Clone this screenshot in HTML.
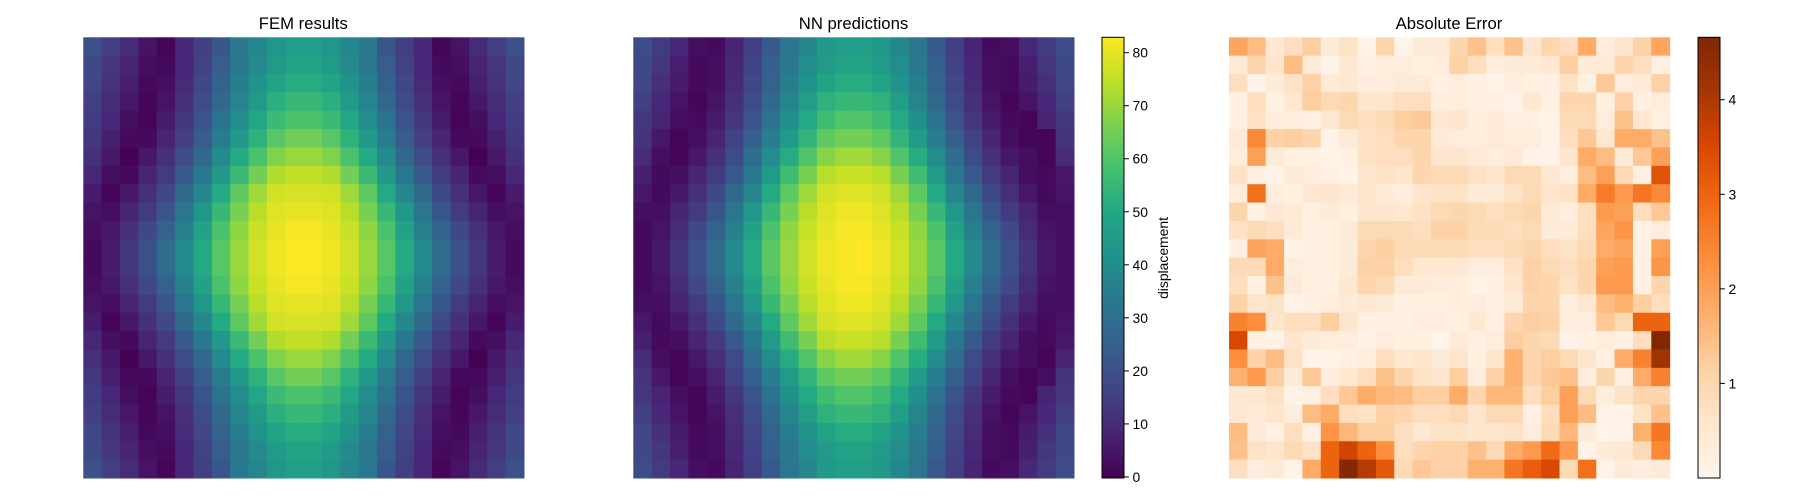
<!DOCTYPE html>
<html><head><meta charset="utf-8"><style>
html,body{margin:0;padding:0;background:#fff;}
svg{display:block;font-family:"Liberation Sans","DejaVu Sans",sans-serif;}
</style></head>
<body>
<svg id="fig" width="1800" height="500" viewBox="0 0 1800 500" xmlns="http://www.w3.org/2000/svg">
<defs>
<linearGradient id="gViridis" x1="0" y1="1" x2="0" y2="0">
<stop offset="0" stop-color="#440154"/><stop offset="0.1" stop-color="#482475"/><stop offset="0.2" stop-color="#414487"/><stop offset="0.3" stop-color="#355f8d"/><stop offset="0.4" stop-color="#2a788e"/><stop offset="0.5" stop-color="#21918c"/><stop offset="0.6" stop-color="#22a884"/><stop offset="0.7" stop-color="#44bf70"/><stop offset="0.8" stop-color="#7ad151"/><stop offset="0.9" stop-color="#bddf26"/><stop offset="1" stop-color="#fde725"/>
</linearGradient>
<linearGradient id="gOranges" x1="0" y1="1" x2="0" y2="0">
<stop offset="0" stop-color="#fff5eb"/><stop offset="0.125" stop-color="#fee6ce"/><stop offset="0.25" stop-color="#fdd0a2"/><stop offset="0.375" stop-color="#fdae6b"/><stop offset="0.5" stop-color="#fd8d3c"/><stop offset="0.625" stop-color="#f16913"/><stop offset="0.75" stop-color="#d94801"/><stop offset="0.875" stop-color="#a63603"/><stop offset="1" stop-color="#7f2704"/>
</linearGradient>
</defs>
<text x="303.3" y="29" font-size="16.7" text-anchor="middle" fill="#000">FEM results</text>
<text x="853.5" y="29" font-size="16.7" text-anchor="middle" fill="#000">NN predictions</text>
<text x="1449" y="29" font-size="16.7" text-anchor="middle" fill="#000">Absolute Error</text>
<g id="fem"></g>
<g id="nn"></g>
<g id="err"></g>
<g id="cb1">
<rect x="1102" y="37.3" width="22" height="440.7" fill="url(#gViridis)" stroke="#000" stroke-width="1"/>
</g>
<text transform="translate(1168,258) rotate(-90)" font-size="13.9" text-anchor="middle" fill="#000">displacement</text>
<g id="cb2">
<rect x="1698" y="37.3" width="22" height="440.7" fill="url(#gOranges)" stroke="#000" stroke-width="1"/>
</g>
</svg>
<script>
const nRows = 24, nCols = 24;
const femValues = [
[20,15,10,4,1,9,15,22,33,38,43,46,46,43,38,33,22,15,9,1,4,10,15,20],
[18,13,8,3,2,9,16,24,33,39,45,48,48,45,39,33,24,16,9,2,3,8,13,18],
[17,12,7,2,3,10,17,26,35,42,48,51,51,48,42,35,26,17,10,3,2,7,12,17],
[15,10,5,1,4,11,19,28,37,45,52,55,55,52,45,37,28,19,11,4,1,5,10,15],
[14,9,3,1,6,13,21,31,40,49,56,59,59,56,49,40,31,21,13,6,1,3,9,14],
[13,7,2,2,8,15,24,34,44,53,61,65,65,61,53,44,34,24,15,8,2,2,7,13],
[11,5,0,5,11,19,28,39,50,59,67,70,70,67,59,50,39,28,19,11,5,0,5,11],
[9,3,2,8,14,23,33,44,56,65,73,75,75,73,65,56,44,33,23,14,8,2,3,9],
[6,1,5,11,18,28,38,50,62,71,77,78,78,77,71,62,50,38,28,18,11,5,1,6],
[4,3,8,14,22,32,43,55,66,74,79,80,80,79,74,66,55,43,32,22,14,8,3,4],
[3,5,11,18,26,36,47,59,69,76,80,82,82,80,76,69,59,47,36,26,18,11,5,3],
[2,6,13,20,29,39,50,61,70,77,81,83,83,81,77,70,61,50,39,29,20,13,6,2],
[2,6,13,20,29,39,50,61,70,77,81,83,83,81,77,70,61,50,39,29,20,13,6,2],
[3,5,11,18,26,36,47,59,69,76,80,82,82,80,76,69,59,47,36,26,18,11,5,3],
[4,3,8,14,22,32,43,55,66,74,79,80,80,79,74,66,55,43,32,22,14,8,3,4],
[6,1,5,11,18,28,38,50,62,71,77,78,78,77,71,62,50,38,28,18,11,5,1,6],
[9,3,2,8,14,23,33,44,56,65,73,75,75,73,65,56,44,33,23,14,8,2,3,9],
[11,5,0,5,11,19,28,39,50,59,67,70,70,67,59,50,39,28,19,11,5,0,5,11],
[13,7,2,2,8,15,24,34,44,53,61,65,65,61,53,44,34,24,15,8,2,2,7,13],
[14,9,3,1,6,13,21,31,40,49,56,59,59,56,49,40,31,21,13,6,1,3,9,14],
[15,10,5,1,4,11,19,28,37,45,52,55,55,52,45,37,28,19,11,4,1,5,10,15],
[17,12,7,2,3,10,17,26,35,42,48,51,51,48,42,35,26,17,10,3,2,7,12,17],
[18,13,8,3,2,9,16,24,33,39,45,48,48,45,39,33,24,16,9,2,3,8,13,18],
[20,15,10,4,1,9,15,22,33,38,43,46,46,43,38,33,22,15,9,1,4,10,15,20]
];
const nnValues = [
[19,14,9,3,2,8,15,23,32,38,44,46,46,44,38,32,23,15,8,2,3,9,14,19],
[18,13,7,2,3,9,16,25,33,40,45,48,48,45,40,33,25,16,9,3,2,7,13,18],
[17,11,6,2,3,10,17,26,35,42,48,51,51,48,42,35,26,17,10,3,2,6,11,17],
[15,9,4,1,4,11,19,28,37,46,53,55,55,53,46,37,28,19,11,4,1,4,9,15],
[13,8,3,2,6,13,21,31,41,50,57,60,60,57,50,41,31,21,13,6,2,1,8,13],
[12,5,1,3,8,16,25,35,45,54,62,65,65,62,54,45,35,25,16,8,3,1,1,12],
[10,3,1,5,11,19,29,40,51,60,68,71,71,68,60,51,40,29,19,11,5,3,1,10],
[7,2,3,8,14,23,33,45,57,66,74,76,76,74,66,57,45,33,23,14,8,3,2,5],
[5,2,5,11,18,28,38,50,62,71,77,79,79,77,71,62,50,38,28,18,11,5,2,4],
[3,3,8,14,22,32,43,55,66,74,79,81,81,79,74,66,55,43,32,22,14,8,3,3],
[2,4,10,18,26,36,47,59,69,76,80,82,82,80,76,69,59,47,36,26,18,10,4,3],
[2,5,12,20,29,39,50,61,70,77,81,82,83,81,77,70,61,50,39,29,20,12,5,3],
[2,5,12,20,29,39,50,61,70,77,81,82,83,81,77,70,61,50,39,29,20,12,5,3],
[2,4,10,18,26,36,47,59,69,76,80,82,82,80,76,69,59,47,36,26,18,10,4,3],
[3,3,8,14,22,32,43,55,66,74,79,81,81,79,74,66,55,43,32,22,14,8,3,3],
[5,2,5,11,18,28,38,50,62,71,77,79,79,77,71,62,50,38,28,18,11,5,2,4],
[7,2,3,8,14,23,33,45,57,66,74,76,76,74,66,57,45,33,23,14,8,3,2,5],
[10,3,1,5,11,19,29,40,51,60,68,71,71,68,60,51,40,29,19,11,5,3,1,8],
[12,5,1,3,8,16,25,35,45,54,62,65,65,62,54,45,35,25,16,8,3,1,3,12],
[13,8,3,1,6,13,21,31,41,50,57,60,60,57,50,41,31,21,13,6,2,1,8,13],
[15,9,4,1,4,11,19,28,37,46,53,55,55,53,46,37,28,19,11,4,1,4,9,15],
[17,11,6,2,3,10,17,26,35,42,48,51,51,48,42,35,26,17,10,3,2,6,11,17],
[18,13,7,2,3,9,16,25,33,40,45,48,48,45,40,33,25,16,9,3,2,7,13,18],
[19,14,9,3,2,8,15,23,32,38,44,46,46,44,38,32,23,15,8,2,3,9,14,19]
];
const errValues = [
[1.9,1.5,0.5,0.8,1.2,0.4,0.7,0.1,1.0,0.05,0.4,0.4,1.0,1.4,0.8,1.4,0.6,1.0,0.8,1.8,0.3,0.6,1.1,1.9],
[0.4,1.0,0.6,1.5,0.4,0.1,0.5,0.2,0.3,0.3,0.2,0.3,1.1,0.8,0.3,0.4,0.4,0.5,1.2,0.4,0.4,1.0,0.8,0.2],
[0.8,0.1,0.4,0.7,1.1,0.4,0.5,0.3,0.3,0.4,0.4,0.2,0.3,0.2,0.1,0.3,0.2,0.2,0.7,0.2,1.3,0.3,0.4,1.1],
[0.2,0.8,0.2,0.5,1.2,0.9,1.0,0.6,0.6,0.8,0.8,0.3,0.3,0.2,0.2,0.1,0.5,0.2,1.0,1.0,0.2,1.1,0.2,0.3],
[0.2,0.7,0.3,0.3,0.2,0.5,0.9,0.8,0.9,1.2,1.3,0.5,0.6,0.3,0.4,0.2,0.2,0.1,0.9,0.9,0.3,1.4,0.5,0.2],
[0.4,2.4,1.1,1.2,1.0,0.1,0.4,0.7,0.8,1.0,1.0,0.4,0.3,0.3,0.4,0.3,0.3,0.1,0.8,1.3,0.5,1.8,1.8,1.4],
[0.3,2.0,0.4,0.2,0.2,0.1,0.2,0.7,0.8,0.8,1.0,0.6,0.6,0.4,0.3,0.4,0.1,0.1,0.6,1.8,1.5,0.4,1.3,2.0],
[0.7,0.2,0.1,0.4,0.3,0.2,0.1,0.6,0.7,0.6,1.0,0.9,0.9,0.7,0.6,0.9,0.9,0.5,0.3,1.5,2.0,0.9,0.2,3.3],
[0.3,2.8,0.3,0.2,0.5,0.6,0.4,0.6,0.4,0.3,0.6,0.7,0.7,0.4,0.4,0.7,0.9,0.6,0.7,1.8,2.6,2.1,2.7,2.4],
[1.0,0.2,0.5,0.4,0.2,0.4,0.2,0.6,0.6,0.5,0.7,0.9,1.0,0.9,0.8,0.9,1.0,0.4,0.3,0.8,2.1,2.0,0.8,1.3],
[0.7,0.9,0.8,0.4,0.2,0.2,0.4,0.9,0.9,0.9,0.8,1.1,1.1,0.9,0.9,0.8,0.9,0.4,0.4,0.8,1.9,2.2,0.1,0.3],
[0.2,1.9,1.8,0.1,0.2,0.2,0.4,1.0,1.2,0.9,0.9,0.9,0.9,0.8,0.8,0.9,1.0,0.8,0.7,0.9,1.8,1.9,0.2,2.0],
[0.9,0.9,1.8,0.3,0.2,0.2,0.4,1.1,1.1,0.8,0.5,0.5,0.5,0.3,0.3,0.7,1.1,0.9,0.8,1.0,2.0,2.1,0.2,2.2],
[0.8,0.2,1.4,0.4,0.2,0.2,0.5,1.0,0.9,0.4,0.4,0.3,0.3,0.1,0.2,0.6,1.1,1.0,0.7,1.0,2.1,2.1,0.2,1.0],
[1.1,0.6,0.7,0.1,0.2,0.3,0.4,0.5,0.4,0.2,0.2,0.2,0.3,0.3,0.2,0.4,1.0,1.0,0.3,0.5,1.5,1.7,1.2,0.8],
[2.5,2.3,0.6,0.8,0.8,1.2,0.6,0.2,0.2,0.2,0.3,0.3,0.2,0.5,0.2,1.0,1.2,1.1,0.3,0.3,1.3,0.9,3.0,3.0],
[3.5,0.2,0.1,0.6,0.4,0.3,0.3,0.1,0.3,0.2,0.2,0.05,0.4,0.2,0.3,1.2,1.0,0.9,0.1,0.2,0.3,0.2,0.8,4.65],
[2.3,1.1,1.5,0.7,0.1,0.1,0.2,0.3,0.8,0.5,0.6,0.4,0.6,0.2,0.6,1.7,1.0,1.2,0.9,0.6,0.2,1.8,2.5,4.2],
[1.7,2.1,1.2,0.4,1.3,0.3,0.5,0.8,1.4,1.0,0.7,0.6,1.2,0.3,1.1,1.7,1.0,1.3,1.4,0.3,1.0,0.2,1.8,2.5],
[0.5,0.5,0.7,0.1,0.2,0.8,1.3,1.8,1.6,1.5,1.2,1.2,1.8,1.0,1.6,1.6,0.8,1.2,2.0,0.9,0.3,0.7,1.0,1.0],
[0.5,0.4,0.6,0.3,1.5,1.8,0.8,0.7,1.1,1.0,0.8,0.8,0.9,0.6,0.9,0.9,0.2,0.8,2.0,1.5,0.1,0.1,0.7,1.4],
[1.5,0.4,0.2,0.8,0.2,2.2,1.6,1.2,1.2,0.8,0.5,0.7,0.7,0.6,0.6,0.7,0.3,0.9,1.6,0.4,0.05,0.1,1.7,2.7],
[1.4,0.7,0.6,0.9,0.7,3.0,3.6,3.0,2.3,0.8,1.0,1.1,1.1,1.4,0.9,1.8,2.1,2.9,2.1,0.1,0.4,0.5,0.9,2.4],
[0.8,0.3,0.4,0.1,1.8,3.0,4.6,3.9,3.2,0.9,1.3,1.1,1.1,1.7,1.7,2.7,3.1,3.5,0.9,2.8,0.1,0.4,0.3,0.4]
];
const dispTicks = [0,10,20,30,40,50,60,70,80];
const dispTickLabels = ["0","10","20","30","40","50","60","70","80"];
const errTicks = [1,2,3,4];
const errTickLabels = ["1","2","3","4"];
const dispMin = -0.2, dispMax = 82.9;
const errMin = 0, errMax = 4.66;

const VIR = ["#440154","#482475","#414487","#355f8d","#2a788e","#21918c","#22a884","#44bf70","#7ad151","#bddf26","#fde725"];
const ORA = ["#fff5eb","#fee6ce","#fdd0a2","#fdae6b","#fd8d3c","#f16913","#d94801","#a63603","#7f2704"];
function hex(h){return [parseInt(h.substr(1,2),16),parseInt(h.substr(3,2),16),parseInt(h.substr(5,2),16)];}
function cmap(stops,t){
  t=Math.max(0,Math.min(1,t));
  const p=t*(stops.length-1), i=Math.min(stops.length-2,Math.floor(p)), f=p-i;
  const a=hex(stops[i]), b=hex(stops[i+1]);
  return "rgb("+a.map((v,k)=>Math.round(v+(b[k]-v)*f)).join(",")+")";
}
const NS="http://www.w3.org/2000/svg";
const top0=37.3, size=440.7;
function drawGrid(gid,x0,vals,stops,vmin,vmax,label){
  const g=document.getElementById(gid);
  const cw=size/nCols, ch=size/nRows;
  const xs=j=>x0+j*cw, ys=i=>top0+i*ch;
  for(let i=0;i<nRows;i++){for(let j=0;j<nCols;j++){
    const r=document.createElementNS(NS,"rect");
    r.setAttribute("x",xs(j).toFixed(2));
    r.setAttribute("y",ys(i).toFixed(2));
    r.setAttribute("width",(cw+0.5).toFixed(2));
    r.setAttribute("height",(ch+0.5).toFixed(2));
    r.setAttribute("fill",cmap(stops,(vals[i][j]-vmin)/(vmax-vmin)));
    
    
    g.appendChild(r);
  }}
}
drawGrid("fem",83.3,femValues,VIR,dispMin,dispMax,"fem-cell");
drawGrid("nn",633.3,nnValues,VIR,dispMin,dispMax,"nn-cell");
drawGrid("err",1229,errValues,ORA,errMin,errMax,"error-cell");
function drawTicks(gid,x0,ticks,labels,vmin,vmax,name){
  const g=document.getElementById(gid);
  const yv=v=>top0+size-(v-vmin)/(vmax-vmin)*size;
  ticks.forEach((v,k)=>{
    const y=yv(v);
    const l=document.createElementNS(NS,"line");
    l.setAttribute("x1",x0);l.setAttribute("x2",x0+4.9);
    l.setAttribute("y1",y);l.setAttribute("y2",y);
    l.setAttribute("stroke","#000");l.setAttribute("stroke-width","1");
    
    
    g.appendChild(l);
    const t=document.createElementNS(NS,"text");
    t.setAttribute("x",x0+8.5);t.setAttribute("y",y+5);
    t.setAttribute("font-size","13.9");t.setAttribute("fill","#000");
    t.textContent=labels[k];
    
    
    g.appendChild(t);
  });
}
drawTicks("cb1",1124,dispTicks,dispTickLabels,dispMin,dispMax,"displacement");
drawTicks("cb2",1720,errTicks,errTickLabels,errMin,errMax,"error");
</script>
</body></html>
